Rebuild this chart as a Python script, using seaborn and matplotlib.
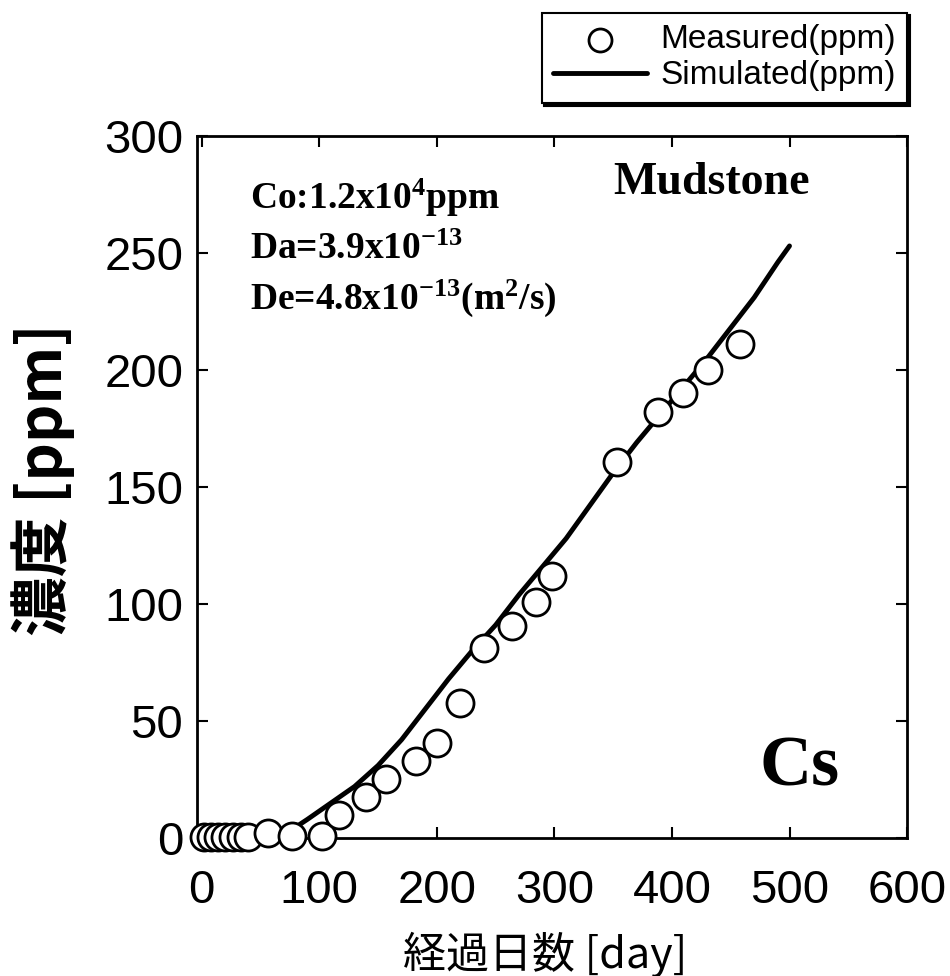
import numpy as np
import pandas as pd
import seaborn as sns
import matplotlib as mpl
import matplotlib.pyplot as plt

# measured Cs concentration
meas_day = [2, 8, 14, 20, 27, 33, 39, 56, 77, 102, 117, 140, 157, 182, 200,
            220, 240, 264, 284, 298, 353, 388, 409, 431, 458]
meas_ppm = [0.5, 0.5, 0.5, 0.5, 0.5, 0.5, 0.5, 2, 1, 1, 10, 17.5, 25, 33, 40.5,
            57.5, 81, 90.5, 101, 112, 160.5, 182, 190, 200, 211]

# simulated curve
sim_day = [60, 75, 90, 110, 130, 150, 170, 190, 210, 230, 250, 270, 290, 310,
           330, 350, 370, 390, 410, 430, 450, 470, 490, 500]
sim_ppm = [0, 3, 8, 15, 22, 31, 42, 55, 68, 80, 91, 104, 116, 128,
           142, 156, 169, 181, 193, 205, 218, 231, 246, 253]

x_ticks = [0, 100, 200, 300, 400, 500, 600]
y_ticks = [0, 50, 100, 150, 200, 250, 300]

sns.set_style('ticks')
plt.rcParams['font.family'] = ['Liberation Sans', 'Noto Sans CJK JP', 'DejaVu Sans']
plt.rcParams['text.color'] = 'black'
plt.rcParams['axes.labelcolor'] = 'black'
plt.rcParams['xtick.color'] = 'black'
plt.rcParams['ytick.color'] = 'black'
plt.rcParams['mathtext.fontset'] = 'custom'
plt.rcParams['mathtext.rm'] = 'Liberation Serif:bold'
plt.rcParams['mathtext.it'] = 'Liberation Serif:bold'
plt.rcParams['mathtext.bf'] = 'Liberation Serif:bold'

meas = pd.DataFrame({'day': meas_day, 'ppm': meas_ppm})
sim = pd.DataFrame({'day': sim_day, 'ppm': sim_ppm})

fig = plt.figure(figsize=(9.5, 9.76), dpi=100)
ax = fig.add_axes([0.2074, 0.1414, 0.7474, 0.7193])

sns.scatterplot(data=meas, x='day', y='ppm', ax=ax, s=380, marker='o',
                facecolor='white', edgecolor='black', linewidth=2,
                clip_on=False, zorder=4, label='Measured(ppm)')
sns.lineplot(data=sim, x='day', y='ppm', ax=ax, color='black', lw=3.5,
             zorder=3, label='Simulated(ppm)')

ax.set_xlim(-4, 600)
ax.set_ylim(0, 300)
ax.set_xticks(x_ticks)
ax.set_yticks(y_ticks)

tick_font = {'family': ['Liberation Sans'], 'size': 34}
ax.set_xticklabels([str(t) for t in x_ticks], fontdict=tick_font)
ax.set_yticklabels([str(t) for t in y_ticks], fontdict=tick_font)
ax.tick_params(direction='in', length=8, width=1.5, top=True, right=True)
ax.tick_params(axis='x', pad=22)
ax.tick_params(axis='y', pad=10)
for sp in ax.spines.values():
    sp.set_linewidth(2)
    sp.set_color('black')

ax.set_xlabel('経過日数 [day]', fontsize=31, family=['Noto Sans CJK JP', 'DejaVu Sans'])
ax.xaxis.label.set_va('center')
ax.xaxis.set_label_coords(0.49, -0.166)
ax.set_ylabel('濃度 [ppm]', fontsize=43, fontweight='bold',
              family=['Noto Sans CJK JP', 'DejaVu Sans'])
ax.yaxis.set_label_coords(-0.172, 0.51)

serif = {'family': 'Liberation Serif', 'weight': 'bold'}
ax.text(0.075, 0.912, 'Co:1.2x10$^{4}$ppm', transform=ax.transAxes,
        fontsize=27, va='center', ha='left', fontdict=serif)
ax.text(0.075, 0.838, 'Da=3.9x10$^{-13}$', transform=ax.transAxes,
        fontsize=27, va='center', ha='left', fontdict=serif)
ax.text(0.075, 0.769, 'De=4.8x10$^{-13}$(m$^{2}$/s)', transform=ax.transAxes,
        fontsize=27, va='center', ha='left', fontdict=serif)
ax.text(0.725, 0.933, 'Mudstone', transform=ax.transAxes, fontsize=33,
        va='center', ha='center', fontdict=serif)
ax.text(0.849, 0.10, 'Cs', transform=ax.transAxes, fontsize=52,
        va='center', ha='center', fontdict=serif)

handles, labels = ax.get_legend_handles_labels()
ax.get_legend().remove()
leg = fig.legend(handles, labels, loc='upper right',
                 bbox_to_anchor=(0.955, 0.987), fontsize=24,
                 frameon=True, fancybox=False, handlelength=2.8,
                 handletextpad=0.4, labelspacing=0.15, borderpad=0.35,
                 borderaxespad=0, markerscale=0.85,
                 shadow={'color': 'black', 'alpha': 1})
leg.get_frame().set_edgecolor('black')
leg.get_frame().set_linewidth(1.5)
leg.get_frame().set_alpha(1)

fig.savefig('out.png', dpi=100)
